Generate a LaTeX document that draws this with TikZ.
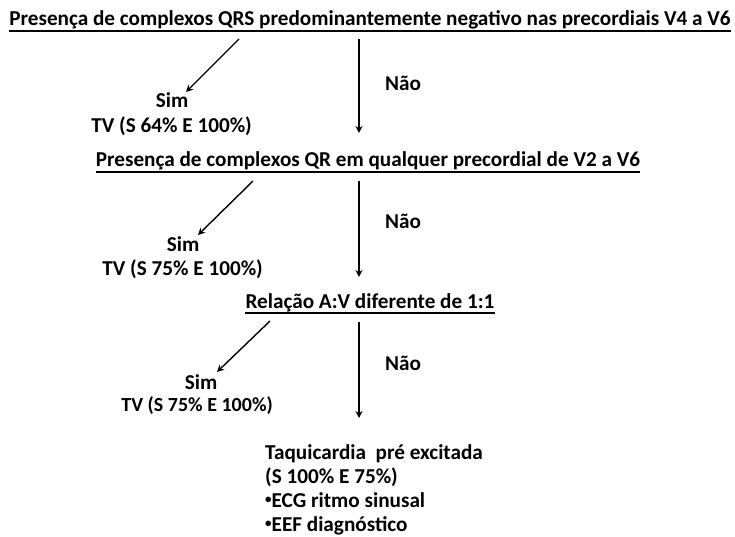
\documentclass[tikz,border=0pt]{standalone}
\usepackage{fontspec}
\setmainfont{Carlito}
\usetikzlibrary{arrows.meta,calc}
\newcommand{\smallbul}{\raisebox{3.5pt}{\fontsize{13}{13}\selectfont •}}
\begin{document}
\begin{tikzpicture}[x=1pt,y=-1pt,
  txt/.style={inner sep=0pt,font=\fontsize{21.2}{25}\selectfont\bfseries},
  ttl/.style={txt,anchor=base},
  arr/.style={line width=1.4pt,-{Stealth[length=7pt,width=7pt]}},
  ul/.style={line width=1.1pt}]
\useasboundingbox (0,0) rectangle (735,537);
% Level 1
\node[ttl] (t1) at (370,26) {Presença de complexos QRS predominantemente negativo nas precordiais V4 a V6};
\draw[ul] ($(t1.base west)+(0,5)$) -- ($(t1.base east)+(0,5)$);
\coordinate (d1s) at (239,39);
\coordinate (d1e) at (186,92);
\coordinate (v1s) at (359,39);
\coordinate (v1e) at (359,133);
\node[txt,anchor=base] (sim1) at (172,108) {Sim};
\node[txt,anchor=base east] (tv1) at (252,133) {TV (S 64\% E 100\%)};
\node[txt,anchor=base] (nao1) at (403,91) {Não};
\draw[arr] (d1s) -- (d1e);
\draw[arr] (v1s) -- (v1e);
% Level 2
\node[ttl] (t2) at (368,167) {Presença de complexos QR em qualquer precordial de V2 a V6};
\draw[ul] ($(t2.base west)+(0,5)$) -- ($(t2.base east)+(0,5)$);
\coordinate (d2s) at (253,181);
\coordinate (d2e) at (198,235);
\coordinate (v2s) at (359,181);
\coordinate (v2e) at (359,277);
\node[txt,anchor=base] (sim2) at (183,251) {Sim};
\node[txt,anchor=base east] (tv2) at (263,275) {TV (S 75\% E 100\%)};
\node[txt,anchor=base] (nao2) at (403,228) {Não};
\draw[arr] (d2s) -- (d2e);
\draw[arr] (v2s) -- (v2e);
% Level 3
\node[ttl] (t3) at (370,308) {Relação A:V diferente de 1:1};
\draw[ul] ($(t3.base west)+(0,5)$) -- ($(t3.base east)+(0,5)$);
\coordinate (d3s) at (270,321);
\coordinate (d3e) at (217,372);
\coordinate (v3s) at (359,322);
\coordinate (v3e) at (359,418);
\node[txt,anchor=base] (sim3) at (201,389) {Sim};
\node[txt,anchor=base east,font=\fontsize{20}{24}\selectfont\bfseries] (tv3) at (273,411) {TV (S 75\% E 100\%)};
\node[txt,anchor=base] (nao3) at (403,370) {Não};
\draw[arr] (d3s) -- (d3e);
\draw[arr] (v3s) -- (v3e);
% Final
\node[txt,anchor=base west] (f1) at (265,459) {Taquicardia\ \ pré excitada};
\node[txt,anchor=base west] (f2) at (265,483) {(S 100\% E 75\%)};
\node[txt,anchor=base west] (f3) at (265,507) {\smallbul ECG ritmo sinusal};
\node[txt,anchor=base west] (f4) at (265,531) {\smallbul EEF diagnóstico};
\end{tikzpicture}
\end{document}
